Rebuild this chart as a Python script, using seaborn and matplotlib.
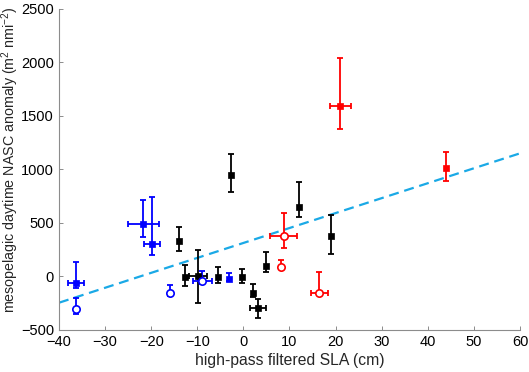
import numpy as np
import pandas as pd
import seaborn as sns
import matplotlib
matplotlib.use("Agg")
import matplotlib.pyplot as plt

# blue group
blue_x = [-36.3, -36.3, -21.7, -19.8, -16.0, -8.9, -3.2]
blue_y = [-64, -300, 488, 301, -157, -40, -26]
blue_filled = [1, 0, 1, 1, 0, 0, 1]
blue_xerr = [1.8, 0, 3.4, 1.7, 0, 2.0, 0]
blue_ylo = [40, 50, 116, 100, 30, 30, 20]
blue_yhi = [200, 95, 227, 445, 75, 90, 56]

# black group
black_x = [-14.0, -12.6, -9.8, -5.5, -0.2, 2.1, 3.2, 4.9, -2.7, 12.0, 19.0]
black_y = [335, -5, 0, -5, -5, -157, -297, 101, 949, 647, 378]
black_filled = [1] * 11
black_xerr = [0, 0, 2.0, 0, 0, 0, 1.8, 0, 0, 0, 0]
black_ylo = [93, 87, 245, 56, 56, 31, 93, 62, 162, 94, 171]
black_yhi = [131, 115, 245, 93, 78, 84, 84, 125, 193, 239, 196]

# red group
red_x = [8.7, 8.2, 16.5, 21.0, 44.0]
red_y = [378, 92, -151, 1596, 1011]
red_filled = [0, 0, 0, 1, 1]
red_xerr = [2.9, 0, 1.9, 2.3, 0]
red_ylo = [115, 20, 10, 220, 118]
red_yhi = [212, 62, 193, 443, 153]

# fitted line
fit_intercept = 313
fit_slope = 13.96
fit_xlim = [-40, 60]

colors = {"blue": "#0000ff", "black": "#000000", "red": "#ff0000"}

frames = []
for name, x, y, f, xe, lo, hi in [
    ("black", black_x, black_y, black_filled, black_xerr, black_ylo, black_yhi),
    ("blue", blue_x, blue_y, blue_filled, blue_xerr, blue_ylo, blue_yhi),
    ("red", red_x, red_y, red_filled, red_xerr, red_ylo, red_yhi),
]:
    frames.append(pd.DataFrame({"grp": name, "x": x, "y": y, "filled": f,
                                "xerr": xe, "ylo": lo, "yhi": hi}))
df = pd.concat(frames, ignore_index=True)

sns.set_style("ticks")
plt.rcParams["font.family"] = ["Liberation Sans", "DejaVu Sans"]
plt.rcParams["mathtext.default"] = "regular"

fig = plt.figure(figsize=(5.29, 3.72), dpi=100)
ax = fig.add_axes([0.1115, 0.113, 0.8715, 0.863])

# fit line underneath the points
line_df = pd.DataFrame({"x": fit_xlim,
                        "y": [fit_intercept + fit_slope * v for v in fit_xlim]})
sns.lineplot(data=line_df, x="x", y="y", ax=ax, color="#1aa9e6", lw=1.6,
             linestyle=(0, (4.5, 2.6)), zorder=1)

for name in ["black", "blue", "red"]:
    d = df[df.grp == name]
    c = colors[name]
    ax.errorbar(d.x, d.y, yerr=[d.ylo, d.yhi], fmt="none", ecolor=c,
                elinewidth=1.3, capsize=2.2, capthick=1.3, zorder=2)
    dx = d[d.xerr > 0]
    if len(dx):
        ax.errorbar(dx.x, dx.y, xerr=dx.xerr, fmt="none", ecolor=c,
                    elinewidth=1.3, capsize=2.2, capthick=1.3, zorder=2)
    filled = d[d.filled == 1]
    if len(filled):
        sns.scatterplot(data=filled, x="x", y="y", ax=ax, marker="s", s=24,
                        color=c, edgecolor=c, linewidth=0.5, zorder=3,
                        legend=False)
    opened = d[d.filled == 0]
    if len(opened):
        sns.scatterplot(data=opened, x="x", y="y", ax=ax, marker="o", s=28,
                        facecolor="white", edgecolor=c, linewidth=1.2,
                        zorder=3, legend=False)

ax.set_xlim(-40, 60)
ax.set_ylim(-500, 2500)
ax.set_xticks(np.arange(-40, 61, 10))
ax.set_yticks(np.arange(-500, 2501, 500))
ax.set_xlabel("high-pass filtered SLA (cm)", fontsize=11.3)
ax.set_ylabel("mesopelagic daytime NASC anomaly (m$^{2}$ nmi$^{-2}$)",
              fontsize=10.3)
ax.xaxis.set_label_coords(0.5, -0.072)
ax.yaxis.set_label_coords(-0.083, 0.53)

sns.despine(ax=ax)
for s in ["left", "bottom"]:
    ax.spines[s].set_color("#8c8c8c")
    ax.spines[s].set_linewidth(0.8)
ax.tick_params(direction="in", length=3, width=0.7, color="#8c8c8c",
               labelsize=10.5, labelcolor="black", pad=3.5)

fig.savefig("out.png", dpi=100)
